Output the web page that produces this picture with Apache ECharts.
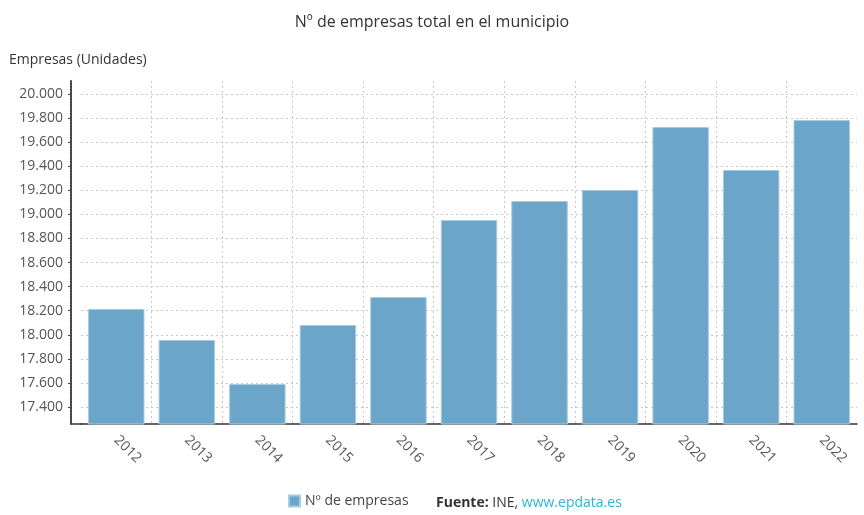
<!DOCTYPE html>
<html><head><meta charset="utf-8">
<script src="https://cdn.jsdelivr.net/npm/echarts@6/dist/echarts.min.js"></script>
<style>html,body{margin:0;padding:0;background:#fff}#c{width:864px;height:515px}</style>
</head><body><div id="c"></div>
<script>
const categories = ['2012','2013','2014','2015','2016','2017','2018','2019','2020','2021','2022'];
const empresas = [18214, 17957, 17591, 18081, 18314, 18953, 19111, 19203, 19726, 19369, 19784];
const yTicks = [17400,17600,17800,18000,18200,18400,18600,18800,19000,19200,19400,19600,19800,20000];
const seriesName = 'Nº de empresas';

function fmt(v){ return String(v).replace(/\B(?=(\d{3})+(?!\d))/g,'.'); }

const chart = echarts.init(document.getElementById('c'));
chart.setOption({
  animation:false,
  textStyle:{fontFamily:'Open Sans'},
  title:{text:'Nº de empresas total en el municipio',left:'center',top:9,
    textStyle:{fontSize:16,fontWeight:'normal',color:'#333',fontFamily:'Open Sans'}},
  grid:{left:81,right:7,top:81,bottom:91,containLabel:false},
  legend:{bottom:2,left:283,itemWidth:11,itemHeight:11,icon:'rect',
    textStyle:{fontSize:14,color:'#444',fontFamily:'Open Sans'},data:[seriesName]},
  graphic:[
    {type:'text',left:436,bottom:5,style:{rich:{b:{fontWeight:'bold',fontSize:14,fill:'#333',fontFamily:'Open Sans'},n:{fontSize:14,fill:'#333',fontFamily:'Open Sans'},l:{fontSize:14,fill:'#2bb5d6',fontFamily:'Open Sans'}},
      text:'{b|Fuente:}{n| INE, }{l|www.epdata.es}'}},
    {type:'line',shape:{x1:71,y1:424,x2:82,y2:424},style:{stroke:'#333',lineWidth:1.5}}
  ],
  xAxis:[
    {type:'category',data:categories,
      axisLine:{onZero:false,lineStyle:{color:'#333',width:1.5}},
      axisTick:{alignWithLabel:true,lineStyle:{color:'#333'}},
      axisLabel:{rotate:-45,fontSize:14,color:'#555',margin:14},
      splitLine:{show:false}},
    {type:'value',min:0,max:categories.length,interval:1,position:'bottom',
      axisLine:{show:false,onZero:false},axisTick:{show:false},axisLabel:{show:false},
      splitLine:{show:true,showMinLine:false,showMaxLine:false,lineStyle:{type:[2,3],color:'#c8c8c8'}}}
  ],
  yAxis:{type:'value',min:17259,max:20108,offset:10,
    name:'Empresas (Unidades)',nameLocation:'end',nameGap:14,
    nameTextStyle:{align:'left',padding:[0,0,0,-62],fontSize:14,color:'#333'},
    axisLine:{show:true,onZero:false,lineStyle:{color:'#444',width:2,type:[2,1]}},
    axisTick:{show:true,length:3,customValues:yTicks,lineStyle:{color:'#444'}},
    axisLabel:{customValues:yTicks,formatter:fmt,fontSize:14,color:'#555',margin:8},
    splitLine:{show:true,lineStyle:{type:[2,3],color:'#c8c8c8'}}},
  series:[{name:seriesName,type:'bar',xAxisIndex:0,data:empresas,barCategoryGap:'20%',
    itemStyle:{color:'#6ba5c9',borderColor:'#a8cbe0',borderWidth:1}}]
});
</script></body></html>
